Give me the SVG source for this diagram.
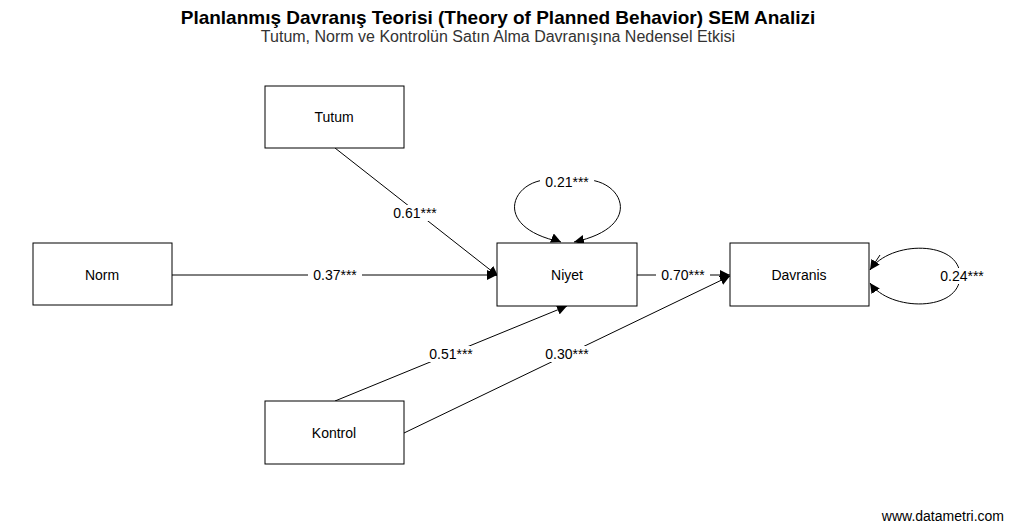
<svg xmlns="http://www.w3.org/2000/svg" width="1009" height="525" viewBox="0 0 1009 525">
<style>
text{font-family:"Liberation Sans",Arial,sans-serif;fill:#000}
.n rect{fill:#fff;stroke:#000;stroke-width:1}
.n text{font-size:14px;text-anchor:middle;dominant-baseline:central}
.e{fill:none;stroke:#000;stroke-width:1}
.l{font-size:14px;text-anchor:middle;dominant-baseline:central}
.bg{fill:#fff}
</style>
<defs><marker id="a" viewBox="0 0 10 10" refX="10" refY="5" markerWidth="10" markerHeight="10" markerUnits="userSpaceOnUse" orient="auto"><path d="M0,0L10,5L0,10z" fill="#000"/></marker></defs>
<rect width="1009" height="525" fill="#fff"/>
<text x="498" y="24" font-size="19" font-weight="bold" text-anchor="middle">Planlanmış Davranış Teorisi (Theory of Planned Behavior) SEM Analizi</text>
<text x="498" y="42" font-size="16" text-anchor="middle" fill="#333" style="fill:#333">Tutum, Norm ve Kontrolün Satın Alma Davranışına Nedensel Etkisi</text>
<g id="connectors">
<path class="e" d="M335,148L498,276" marker-end="url(#a)"/>
<path class="e" d="M172,275L497,275" marker-end="url(#a)"/>
<path class="e" d="M335,401L567,306" marker-end="url(#a)"/>
<path class="e" d="M404,433L730,276" marker-end="url(#a)"/>
<path class="e" d="M637,275L730,275" marker-end="url(#a)"/>
<path class="e" d="M561,242C480,225 520,165 567,183C615,165 655,225 574,242" marker-end="url(#a)"/>
<path class="e" d="M561,242" marker-end="url(#a)"/>
<path class="e" d="M870,270C890,240 960,240 960,276C960,312 890,312 870,283" marker-end="url(#a)"/>
<path class="e" d="M880,255L870,270" marker-end="url(#a)"/>
<rect class="bg" x="388" y="205" width="54" height="16"/><text class="l" x="415" y="213">0.61***</text>
<rect class="bg" x="308" y="267" width="54" height="16"/><text class="l" x="335" y="275">0.37***</text>
<rect class="bg" x="424" y="346" width="54" height="16"/><text class="l" x="451" y="354">0.51***</text>
<rect class="bg" x="540" y="346" width="54" height="16"/><text class="l" x="567" y="354">0.30***</text>
<rect class="bg" x="656" y="267" width="54" height="16"/><text class="l" x="683" y="275">0.70***</text>
<rect class="bg" x="540" y="174" width="54" height="16"/><text class="l" x="567" y="182">0.21***</text>
<rect class="bg" x="935" y="268" width="54" height="16"/><text class="l" x="962" y="276">0.24***</text>
</g>
<g id="tutum" class="n"><rect x="265" y="86" width="139" height="62"/><text x="334" y="117">Tutum</text></g>
<g id="norm" class="n"><rect x="33" y="243" width="139" height="62"/><text x="102" y="275">Norm</text></g>
<g id="niyet" class="n"><rect x="497" y="243" width="140" height="63"/><text x="567" y="275">Niyet</text></g>
<g id="davranis" class="n"><rect x="730" y="243" width="139" height="63"/><text x="799" y="275">Davranis</text></g>
<g id="kontrol" class="n"><rect x="265" y="401" width="139" height="63"/><text x="334" y="433">Kontrol</text></g>
<text x="1004" y="521" font-size="14" text-anchor="end">www.datametri.com</text>
</svg>
